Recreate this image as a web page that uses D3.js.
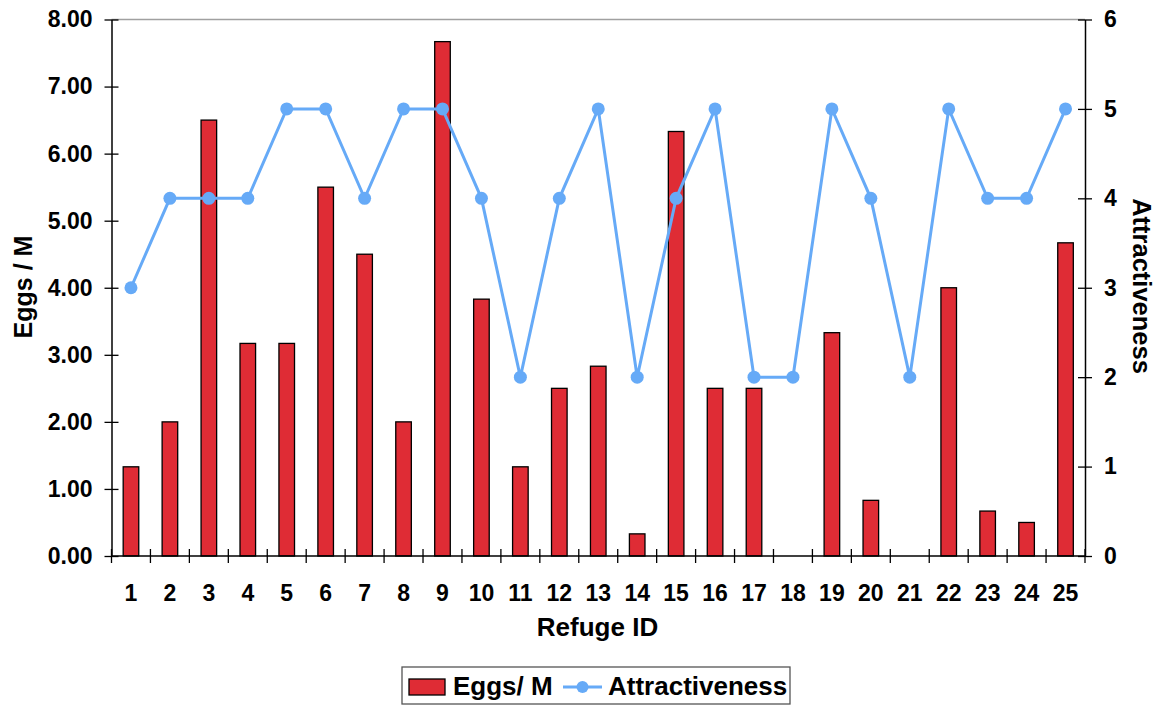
<!DOCTYPE html>
<html>
<head>
<meta charset="utf-8">
<script src="https://cdn.jsdelivr.net/npm/d3@7"></script>
<style>
  html, body { margin: 0; padding: 0; background: #fff; }
  svg { display: block; font-family: "Liberation Sans", Arial, sans-serif; font-weight: bold; }
</style>
</head>
<body>
<svg id="chart" width="1158" height="707"></svg>
<script>
// Refuge IDs on the x axis
const refuges = d3.range(1, 26).map(String);
// Eggs per M for each refuge (bars, left axis)
const eggs = [1.33, 2.00, 6.50, 3.17, 3.17, 5.50, 4.50, 2.00, 7.67, 3.83,
              1.33, 2.50, 2.83, 0.33, 6.33, 2.50, 2.50, 0.00, 3.33, 0.83,
              0.00, 4.00, 0.67, 0.50, 4.67];
// Attractiveness score for each refuge (line, right axis)
const attractiveness = [3, 4, 4, 4, 5, 5, 4, 5, 5, 4, 2, 4, 5, 2, 4, 5, 2, 2, 5, 4, 2, 5, 4, 4, 5];
const leftTicks = [0, 1, 2, 3, 4, 5, 6, 7, 8];
const rightTicks = [0, 1, 2, 3, 4, 5, 6];

const barColor = "#df2c35";
const lineColor = "#66aaf7";
const FONT = "Liberation Sans, Arial, sans-serif";

const svg = d3.select("#chart");
const plot = { left: 111.5, right: 1085, top: 19.5, bottom: 556 };

const x = d3.scaleBand().domain(refuges).range([plot.left, plot.right]).paddingInner(0).paddingOuter(0);
const yL = d3.scaleLinear().domain([0, 8]).range([plot.bottom, plot.top]);
const yR = d3.scaleLinear().domain([0, 6]).range([plot.bottom, plot.top]);

// top frame line
svg.append("line")
  .attr("x1", plot.left).attr("x2", plot.right)
  .attr("y1", plot.top).attr("y2", plot.top)
  .attr("stroke", "#a0a0a0").attr("stroke-width", 1.5);

// bars
const barW = x.bandwidth() * 0.4;
svg.append("g").selectAll("rect")
  .data(eggs)
  .join("rect")
  .attr("x", (d, i) => x(refuges[i]) + (x.bandwidth() - barW) / 2)
  .attr("y", d => yL(d))
  .attr("width", barW)
  .attr("height", d => plot.bottom - yL(d))
  .attr("fill", barColor)
  .attr("stroke", d => d > 0 ? "#000" : "none")
  .attr("stroke-width", 1.3);

function styleTicks(g, size) {
  g.selectAll("text")
    .attr("font-size", size)
    .attr("font-family", FONT)
    .attr("font-weight", "bold")
    .attr("fill", "#000");
}

// left axis
const leftAxis = svg.append("g")
  .attr("transform", `translate(${plot.left},0)`)
  .call(d3.axisLeft(yL).tickValues(leftTicks).tickFormat(d3.format(".2f")).tickSizeInner(0).tickSizeOuter(0).tickPadding(19));
leftAxis.select(".domain").attr("stroke", "#000").attr("stroke-width", 1.5);
styleTicks(leftAxis, 23);
leftAxis.selectAll(".tick").append("line").attr("x1", -7).attr("x2", 7).attr("stroke", "#000").attr("stroke-width", 1.3);

// right axis
const rightAxis = svg.append("g")
  .attr("transform", `translate(${plot.right},0)`)
  .call(d3.axisRight(yR).tickValues(rightTicks).tickFormat(d3.format("d")).tickSizeInner(0).tickSizeOuter(0).tickPadding(19));
rightAxis.select(".domain").attr("stroke", "#000").attr("stroke-width", 1.5);
styleTicks(rightAxis, 23);
rightAxis.selectAll(".tick").append("line").attr("x1", -7).attr("x2", 7).attr("stroke", "#000").attr("stroke-width", 1.3);

// bottom axis
const bottomAxis = svg.append("g")
  .attr("transform", `translate(0,${plot.bottom})`)
  .call(d3.axisBottom(x).tickSize(0).tickPadding(29));
bottomAxis.select(".domain").remove();
styleTicks(bottomAxis, 23);
svg.append("line")
  .attr("x1", plot.left).attr("x2", plot.right)
  .attr("y1", plot.bottom).attr("y2", plot.bottom)
  .attr("stroke", "#000").attr("stroke-width", 1.5);
// category separators
svg.append("g").selectAll("line")
  .data(refuges.concat(["end"]))
  .join("line")
  .attr("x1", (d, i) => plot.left + i * x.bandwidth())
  .attr("x2", (d, i) => plot.left + i * x.bandwidth())
  .attr("y1", plot.bottom - 7).attr("y2", plot.bottom + 7)
  .attr("stroke", "#000").attr("stroke-width", 1.3);

// attractiveness line
const line = d3.line()
  .x((d, i) => x(refuges[i]) + x.bandwidth() / 2)
  .y(d => yR(d));
svg.append("path")
  .datum(attractiveness)
  .attr("d", line)
  .attr("fill", "none")
  .attr("stroke", lineColor)
  .attr("stroke-width", 3);
svg.append("g").selectAll("circle")
  .data(attractiveness)
  .join("circle")
  .attr("cx", (d, i) => x(refuges[i]) + x.bandwidth() / 2)
  .attr("cy", d => yR(d))
  .attr("r", 6.5)
  .attr("fill", lineColor);

// axis titles
svg.append("text")
  .attr("transform", `translate(32,287) rotate(-90)`)
  .attr("text-anchor", "middle")
  .attr("font-size", 25)
  .text("Eggs / M");
svg.append("text")
  .attr("transform", `translate(1133,286) rotate(90)`)
  .attr("text-anchor", "middle")
  .attr("font-size", 25.5)
  .text("Attractiveness");
svg.append("text")
  .attr("x", 597.5)
  .attr("y", 636)
  .attr("text-anchor", "middle")
  .attr("font-size", 26)
  .text("Refuge ID");

// legend
const legend = svg.append("g");
legend.append("rect")
  .attr("x", 402).attr("y", 667).attr("width", 388).attr("height", 37)
  .attr("fill", "#fff").attr("stroke", "#555").attr("stroke-width", 1.3);
legend.append("rect")
  .attr("x", 409).attr("y", 679).attr("width", 36).attr("height", 16)
  .attr("fill", barColor).attr("stroke", "#000").attr("stroke-width", 1.3);
legend.append("text")
  .attr("x", 453).attr("y", 695)
  .attr("font-size", 26)
  .text("Eggs/ M");
legend.append("line")
  .attr("x1", 563).attr("x2", 602).attr("y1", 687).attr("y2", 687)
  .attr("stroke", lineColor).attr("stroke-width", 3);
legend.append("circle")
  .attr("cx", 582.5).attr("cy", 687).attr("r", 6)
  .attr("fill", lineColor);
legend.append("text")
  .attr("x", 608).attr("y", 695)
  .attr("font-size", 26)
  .text("Attractiveness");
</script>
</body>
</html>
